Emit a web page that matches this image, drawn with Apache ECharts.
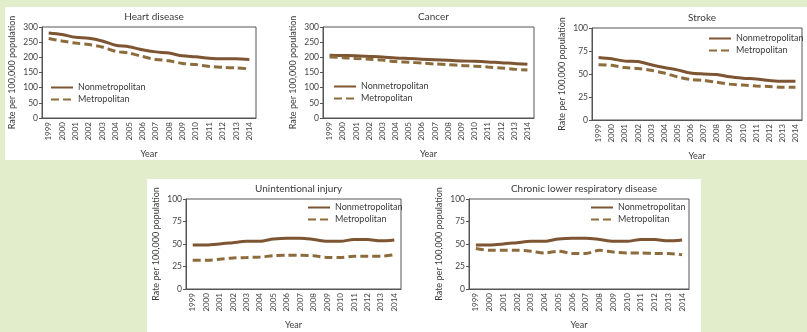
<!DOCTYPE html>
<html><head><meta charset="utf-8">
<script src="https://cdn.jsdelivr.net/npm/echarts@6/dist/echarts.min.js"></script>
<style>html,body{margin:0;padding:0;background:#e2eecb;}#c{width:807px;height:332px;}</style>
</head><body><div id="c"></div>
<script>
const years = ['1999','2000','2001','2002','2003','2004','2005','2006','2007','2008','2009','2010','2011','2012','2013','2014'];
const panelTitles = ['Heart disease','Cancer','Stroke','Unintentional injury','Chronic lower respiratory disease'];
const seriesNames = ['Nonmetropolitan','Metropolitan'];
const yMax = [300,300,100,100,100];
const yStep = [50,50,25,25,25];

const heartNonmetro = [280,275,266,263,254,240,235,225,218,214,205,202,197,195,195,193];
const heartMetro    = [262,254,247,242,234,220,214,203,193,189,180,176,170,167,165,162];
const cancerNonmetro = [207,206,205,203,201,198,196,194,192,190,188,187,185,182,180,177];
const cancerMetro    = [201,199,196,194,191,186,184,181,178,176,173,171,168,165,161,158];
const strokeNonmetro = [68,66.5,64,63.5,60,57,54.5,51,50,49.5,47,45.5,44.5,43,42,42];
const strokeMetro    = [60,59.5,57,56,54,51,47,44,43,41,39,38,37,36.5,35.5,35.5];
const injuryNonmetro = [49,49,50,51.5,53,53,55.5,56.5,56.5,55,53,53,55,55,53.5,54.5];
const injuryMetro    = [32,32,33,34.5,35,35.5,37,37.5,37.5,37,35,35,36.5,36.5,36.5,38];
const clrdNonmetro = [49,49,50,51.5,53,53,55.5,56.5,56.5,55,53,53,55,55,53.5,54.5];
const clrdMetro    = [45,43,43,43,42,40,42,39.5,39.5,43,41,40,40,39.5,39.5,38];

const dataSets = [
  [heartNonmetro, heartMetro],
  [cancerNonmetro, cancerMetro],
  [strokeNonmetro, strokeMetro],
  [injuryNonmetro, injuryMetro],
  [clrdNonmetro, clrdMetro]
];

// layout (pixels)
const grids = [
  {left:42, top:27, width:214, height:91},
  {left:323, top:27, width:211, height:91},
  {left:592, top:28, width:210, height:92},
  {left:186, top:199, width:215, height:90},
  {left:469, top:199, width:220, height:90}
];
const legendPos = [
  {left:50, top:83},
  {left:333, top:82},
  {left:708, top:34},
  {left:307, top:203},
  {left:590, top:203}
];
const FONT = 'Lato';
const solidColor = '#7d5532';
const dashColor = '#8c6c3c';

const chart = echarts.init(document.getElementById('c'), null, {renderer:'canvas'});
const option = {
  backgroundColor: '#e2eecb',
  animation: false,
  textStyle: {fontFamily: FONT},
  graphic: [
    {type:'rect', shape:{x:5, y:7, width:802, height:153}, style:{fill:'#ffffff'}, z:-10},
    {type:'rect', shape:{x:147, y:179, width:554, height:153}, style:{fill:'#ffffff'}, z:-10}
  ],
  title: [], legend: [], grid: [], xAxis: [], yAxis: [], series: []
};
grids.forEach((g, i) => {
  option.grid.push(Object.assign({show:true, borderColor:'#555', borderWidth:1, containLabel:false}, g));
  option.title.push({
    text: panelTitles[i], left: g.left + g.width/2, top: g.top - 20, textAlign: 'center',
    textStyle: {fontSize: 10, fontWeight: 'normal', color: '#3a3a3a', fontFamily: FONT}
  });
  option.legend.push({
    data: seriesNames.map(n => n + '\u200b'.repeat(i)),
    formatter: n => n.replace(/\u200b/g, ''),
    orient: 'vertical', left: legendPos[i].left, top: legendPos[i].top,
    padding: 0,
    itemWidth: 22, itemHeight: 10, itemGap: 3,
    itemStyle: {opacity: 0},
    textStyle: {fontSize: 9, color: '#3a3a3a', fontFamily: FONT},
    selectedMode: false
  });
  option.xAxis.push({
    type: 'category', gridIndex: i, data: years, boundaryGap: true,
    name: 'Year', nameLocation: 'middle', nameGap: 32,
    nameTextStyle: {fontSize: 9, color: '#3a3a3a', fontFamily: FONT},
    axisLine: {lineStyle: {color: '#555', width: 1}},
    axisTick: {alignWithLabel: true, length: 3, lineStyle:{color:'#555'}},
    axisLabel: {rotate: 90, fontSize: 8, color: '#444', margin: 4, interval: 0, fontFamily: FONT}
  });
  option.yAxis.push({
    type: 'value', gridIndex: i, min: 0, max: yMax[i], interval: yStep[i],
    name: 'Rate per 100,000 population', nameLocation: 'middle', nameGap: 25,
    nameTextStyle: {fontSize: 9, color: '#3a3a3a', fontFamily: FONT},
    axisLine: {show: true, lineStyle: {color: '#555', width: 1}},
    axisTick: {show: true, length: 3, lineStyle:{color:'#555'}},
    splitLine: {show: false},
    axisLabel: {fontSize: 8.5, color: '#444', margin: 4, fontFamily: FONT}
  });
  dataSets[i].forEach((vals, k) => {
    option.series.push({
      type: 'line', name: seriesNames[k] + '\u200b'.repeat(i), xAxisIndex: i, yAxisIndex: i,
      data: vals, symbol: 'none', smooth: 0.3,
      lineStyle: k === 0 ? {color: solidColor, width: 3, type: 'solid'} : {color: dashColor, width: 3, type: [8,4]},
      itemStyle: {color: k === 0 ? solidColor : dashColor}
    });
  });
});
chart.setOption(option);
</script></body></html>
